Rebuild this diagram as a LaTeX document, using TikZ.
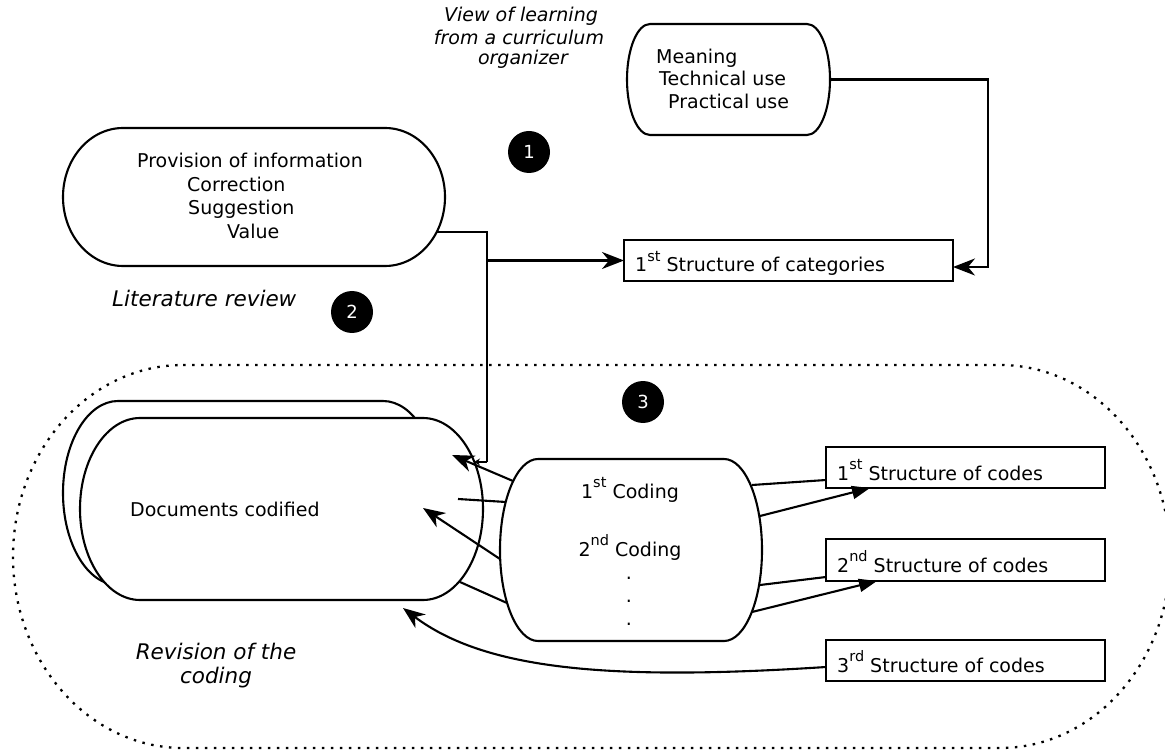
\documentclass[tikz,border=0pt]{standalone}
\usepackage{fontspec}
\setmainfont{DejaVu Sans}
\usetikzlibrary{arrows.meta,calc}
\newcommand\ellbox[4]{\draw[#4] ([xshift=#2]#1.north west) -- ([xshift=-#2]#1.north east) arc[start angle=90,end angle=-90,x radius=#2,y radius=#3] -- ([xshift=#2]#1.south west) arc[start angle=270,end angle=90,x radius=#2,y radius=#3] -- cycle;}
\newcommand\sps[1]{\raisebox{10.5pt}{\fontsize{14.5}{14.5}\selectfont #1}}
\tikzset{
  holder/.style={draw=none,inner sep=0pt,outer sep=0pt,rectangle},
  shp/.style={draw=black,line width=2.1pt,fill=white},
  dotline/.style={draw=black,line width=2.3pt,dash pattern=on 2.5pt off 6.5pt},
  rbox/.style={draw=black,line width=2.1pt,fill=white,inner sep=0pt,outer sep=0pt,rectangle},
  txt/.style={inner sep=0pt,font=\fontsize{19}{22}\selectfont},
  itxt/.style={inner sep=0pt,font=\fontsize{19}{22}\selectfont\itshape},
  bigitxt/.style={inner sep=0pt,font=\fontsize{21.5}{24}\selectfont\itshape},
  badge/.style={circle,fill=black,minimum size=42pt,inner sep=0pt,text=white,font=\fontsize{18}{18}\selectfont},
  conn/.style={line width=2.1pt},
  openarr/.style={line width=2.1pt,-{Stealth[length=22pt,width=17pt,inset=7pt]}},
  smallarr/.style={line width=2.1pt,-{Stealth[length=6pt,width=7pt,inset=2pt]}},
  triarr/.style={line width=2.1pt,-{Triangle[length=18pt,width=13pt]}}
}
\begin{document}
\begin{tikzpicture}[x=1pt,y=-1pt]
\useasboundingbox (0,0) rectangle (1165,751);
% dotted region
\node[holder,minimum width=1157pt,minimum height=383pt] (region) at (591.5,556.5) {};
\ellbox{region}{170pt}{191.5pt}{dotline}
% shapes
\node[holder,minimum width=203pt,minimum height=111pt] (mean) at (728.5,79.5) {};
\ellbox{mean}{23pt}{55.5pt}{shp}
\node[holder,minimum width=382pt,minimum height=138pt] (prov) at (254,197) {};
\ellbox{prov}{60pt}{69pt}{shp}
\node[holder,minimum width=375pt,minimum height=184pt] (back) at (250.5,493) {};
\ellbox{back}{55pt}{92pt}{shp}
\node[holder,minimum width=403pt,minimum height=182pt] (docs) at (281.5,509) {};
\ellbox{docs}{60pt}{91pt}{shp}
\node[holder,minimum width=262pt,minimum height=182pt] (code) at (631,550) {};
\ellbox{code}{38pt}{91pt}{shp}
\node[rbox,minimum width=329pt,minimum height=41pt] (cat) at (788.5,260.5) {};
\node[rbox,minimum width=279pt,minimum height=41pt] (s1) at (965.5,467.5) {};
\node[rbox,minimum width=279pt,minimum height=42pt] (s2) at (965.5,560) {};
\node[rbox,minimum width=279pt,minimum height=41pt] (s3) at (965.5,660.5) {};
% texts
\node[itxt,anchor=base] (v1) at (521,22) {View of learning};
\node[itxt,anchor=base] (v2) at (519,45) {from a curriculum};
\node[itxt,anchor=base] (v3) at (523,65) {organizer};
\node[txt,anchor=base west] (m1) at (656,64) {Meaning};
\node[txt,anchor=base west] (m2) at (659,86) {Technical use};
\node[txt,anchor=base west] (m3) at (668,109) {Practical use};
\node[txt,anchor=base west] (pr1) at (137,168) {Provision of information};
\node[txt,anchor=base west] (pr2) at (187,192) {Correction};
\node[txt,anchor=base west] (pr3) at (188,215) {Suggestion};
\node[txt,anchor=base west] (pr4) at (227,239) {Value};
\node[bigitxt,anchor=base west] (lit) at (112,307) {Literature review};
\node[txt,anchor=base west] (catt) at (635,272) {1\sps{st} Structure of categories};
\node[txt,anchor=base west] (doct) at (130,516) {Documents codified};
\node[txt,anchor=base] (k1) at (630,498) {1\sps{st} Coding};
\node[txt,anchor=base] (k2) at (630,556) {2\sps{nd} Coding};
\node[txt,anchor=base] (d1) at (629,579) {.};
\node[txt,anchor=base] (d2) at (629,602) {.};
\node[txt,anchor=base] (d3) at (629,625) {.};
\node[txt,anchor=base west] (s1t) at (837,480) {1\sps{st} Structure of codes};
\node[txt,anchor=base west] (s2t) at (837,572) {2\sps{nd} Structure of codes};
\node[txt,anchor=base west] (s3t) at (837,672) {3\sps{rd} Structure of codes};
\node[bigitxt,anchor=base] (rv1) at (216,659) {Revision of the};
\node[bigitxt,anchor=base] (rv2) at (216,683) {coding};
% badges
\node[badge] (b1) at (529,152) {1};
\node[badge] (b2) at (352,312) {2};
\node[badge] (b3) at (643,402) {3};
% connector coordinates
\coordinate (p1) at ($(prov.east)+(-8,35)$);
\coordinate (j1) at (487,232);
\coordinate (j2) at (487,260.5);
\coordinate (j3) at (487,462);
\coordinate (p2) at (474,462);
\coordinate (c1s) at (513,481); \coordinate (c1e) at (452,455);
\coordinate (c2s) at (506,502); \coordinate (c2e) at (458,499);
\coordinate (c3s) at (500,559); \coordinate (c3e) at (423,508);
\coordinate (c4s) at (507,603); \coordinate (c4e) at (460,582);
\coordinate (r1s) at (752,485);
\coordinate (r2s) at (760,516);
\coordinate (r3s) at (760,585);
\coordinate (r4s) at (752,612);
\coordinate (r5e) at (403,608);
% connectors
\draw[openarr] (mean.east) -- ++(158,0) |- ([yshift=-6.5pt]cat.east);
\draw[conn] (p1) -- (j1) -- (j3);
\draw[smallarr] (j3) -- (p2);
\draw[openarr] (j2) -- (cat.west);
\draw[openarr] (c1s) -- (c1e);
\draw[conn] (c2s) -- (c2e);
\draw[openarr] (c3s) -- (c3e);
\draw[conn] (c4s) -- (c4e);
\draw[conn] (r1s) -- ([yshift=-12.5pt]s1.west);
\draw[triarr] (r2s) -- ([xshift=-95.5pt]s1.south);
\draw[conn] (r3s) -- ([yshift=-17pt]s2.west);
\draw[triarr] (r4s) -- ([xshift=-88.5pt]s2.south);
\draw[openarr] ([yshift=-6.5pt]s3.west) .. controls (610,681) and (485,670) .. (r5e);
\end{tikzpicture}
\end{document}
